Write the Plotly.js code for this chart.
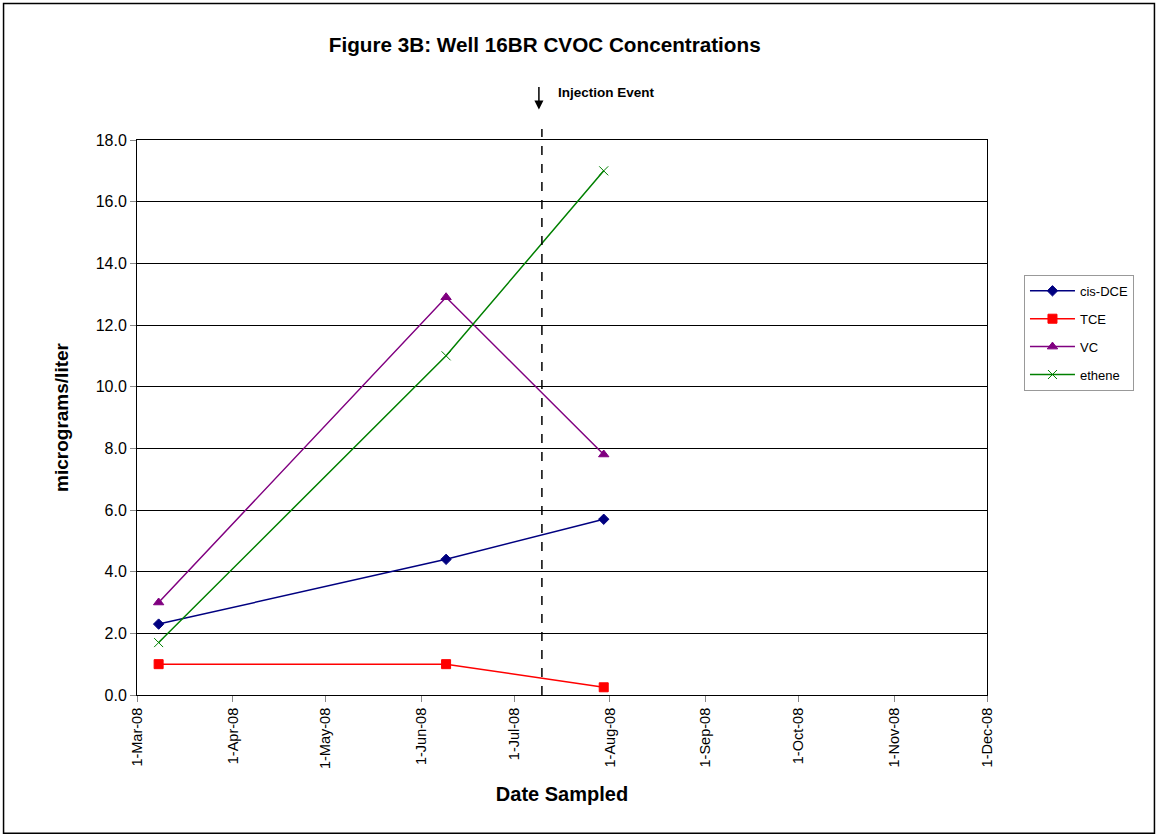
<!DOCTYPE html>
<html>
<head>
<meta charset="utf-8">
<script src="https://cdn.plot.ly/plotly-3.0.1.min.js"></script>
<style>
html,body{margin:0;padding:0;background:#fff;}
#chart{width:1159px;height:835px;}
</style>
</head>
<body>
<div id="chart"></div>
<script>
// ---- data ----
const sampleDates = ["2008-03-08", "2008-06-09", "2008-07-30"];
const cisDCE = [2.3, 4.4, 5.7];
const TCE = [1.0, 1.0, 0.25];
const VC = [3.0, 12.9, 7.8];
const ethene = [1.7, 11.0, 17.0];
const seriesNames = ["cis-DCE", "TCE", "VC", "ethene"];
const tickDates = ["2008-03-01","2008-04-01","2008-05-01","2008-06-01","2008-07-01","2008-08-01","2008-09-01","2008-10-01","2008-11-01","2008-12-01"];
const tickLabels = ["1-Mar-08","1-Apr-08","1-May-08","1-Jun-08","1-Jul-08","1-Aug-08","1-Sep-08","1-Oct-08","1-Nov-08","1-Dec-08"];
const yTicks = [0,2,4,6,8,10,12,14,16,18];
const injectionDate = "2008-07-10";
const injectionLabel = "Injection Event";

const FONT = "Liberation Sans, Arial, sans-serif";

function tr(y, name, color, symbol, size, group) {
  return {
    x: sampleDates, y: y, name: name, type: "scatter", mode: "lines+markers",
    line: {color: color, width: 1.5},
    marker: {color: color, symbol: symbol, size: size, line: {color: color, width: 1}},
    legendgroup: group
  };
}

const traces = [
  tr(cisDCE, seriesNames[0], "#000080", "diamond", 8, "a"),
  tr(TCE, seriesNames[1], "#FF0000", "square", 9, "b"),
  tr(VC, seriesNames[2], "#800080", "triangle-up", 9, "c"),
  tr(ethene, seriesNames[3], "#008000", "x-thin", 9, "d")
];

const layout = {
  width: 1159, height: 835,
  margin: {l: 137, r: 172, t: 140, b: 140},
  paper_bgcolor: "#fff", plot_bgcolor: "#fff",
  font: {family: FONT, color: "#000", size: 13},
  title: {text: "<b>Figure 3B: Well 16BR CVOC Concentrations</b>", font: {size: 20.7, family: FONT, color: "#000"},
          x: 0.47, xanchor: "center", y: 0.947, yanchor: "middle"},
  xaxis: {
    type: "date", range: ["2008-03-01", "2008-12-01"],
    tickvals: tickDates, ticktext: tickLabels, tickangle: -90,
    ticks: "outside", ticklen: 6, tickcolor: "#888", tickwidth: 1,
    showgrid: false, zeroline: false,
    showline: true, linecolor: "#000", linewidth: 1, mirror: true,
    tickfont: {size: 14.5, family: FONT, color: "#000"},
    title: {text: "<b>Date Sampled</b>", font: {size: 20, family: FONT, color: "#000"}, standoff: 18}
  },
  yaxis: {
    range: [0, 18], tickvals: yTicks, tickformat: ".1f",
    ticks: "outside", ticklen: 6, tickcolor: "#888",
    showgrid: true, gridcolor: "#000", gridwidth: 1,
    zeroline: false, showline: true, linecolor: "#000", linewidth: 1, mirror: true,
    tickfont: {size: 16, family: FONT, color: "#000"},
    title: {text: "<b>micrograms/liter</b>", font: {size: 19, family: FONT, color: "#000"}, standoff: 22}
  },
  legend: {
    x: 1.0435, y: 0.757, xanchor: "left", yanchor: "top",
    bordercolor: "#999", borderwidth: 1, bgcolor: "#fff",
    font: {size: 13, family: FONT, color: "#000"},
    traceorder: "grouped", tracegroupgap: 8, itemwidth: 45
  },
  shapes: [
    {type: "rect", xref: "paper", yref: "paper", x0: -0.157, x1: 1.197, y0: -0.249, y1: 1.246,
     line: {color: "#000", width: 1.5}, fillcolor: "rgba(0,0,0,0)"},
    {type: "line", xref: "x", yref: "paper", x0: injectionDate, x1: injectionDate, y0: 0, y1: 1.02,
     line: {color: "#000", width: 1.5, dash: "dash"}}
  ],
  annotations: [
    {xref: "x", yref: "paper", x: injectionDate, y: 1.055, ax: 0, ay: -24, axref: "pixel", ayref: "pixel",
     showarrow: true, arrowhead: 2, arrowsize: 1.2, arrowwidth: 1.5, arrowcolor: "#000", text: "", xshift: -3},
    {xref: "x", yref: "paper", x: injectionDate, y: 1.085, xanchor: "left", yanchor: "middle", xshift: 14,
     showarrow: false, text: "<b>" + injectionLabel + "</b>", font: {size: 13.5, family: FONT, color: "#000"}}
  ],
  showlegend: true
};

Plotly.newPlot("chart", traces, layout, {displayModeBar: false, staticPlot: true});
</script>
</body>
</html>
